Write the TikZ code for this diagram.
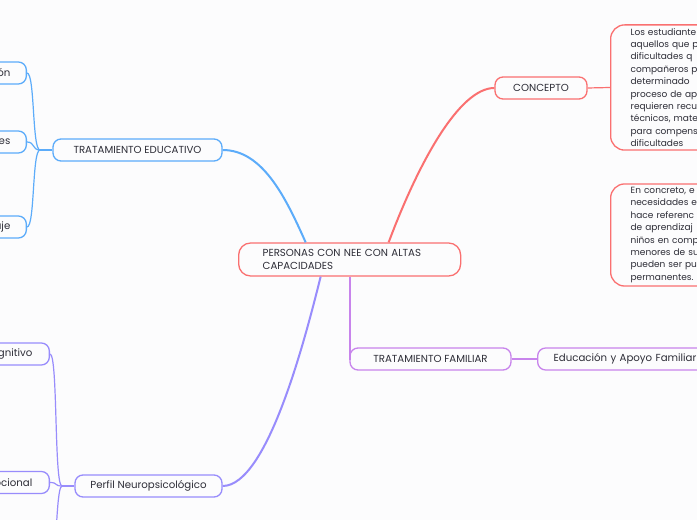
\documentclass[tikz,border=0pt]{standalone}
\usepackage{fontspec}
\setmainfont{Poppins}

\definecolor{ink}{RGB}{45,45,55}
\definecolor{paper}{RGB}{252,252,253}
\definecolor{redc}{RGB}{250,112,112}
\definecolor{bluec}{RGB}{92,172,250}
\definecolor{famc}{RGB}{200,132,236}
\definecolor{perfc}{RGB}{152,140,252}

\tikzstyle{topic}=[draw, rounded corners=8pt, line width=1.3pt, minimum height=22pt, inner xsep=0pt, text=ink, font=\fontsize{10.2}{12}\selectfont]
\tikzstyle{root}=[topic, anchor=west, rounded corners=12pt, minimum height=33pt, inner xsep=24pt, text width=174pt, align=left, font=\fontsize{10.2}{13}\selectfont]
\tikzstyle{note}=[topic, anchor=west, rounded corners=14pt, inner xsep=20pt, text width=200pt, align=left, font=\fontsize{9}{12.4}\selectfont]
\tikzstyle{leaf}=[topic, anchor=east, text width=100pt, align=right]
\tikzstyle{link}=[line width=1.2pt]
\tikzstyle{trunk}=[line width=2pt]

\begin{document}
\begin{tikzpicture}[x=1pt, y=1pt]
      \useasboundingbox[fill=paper] (0,0) rectangle (697,520);
      \clip (0,0) rectangle (697,520);

      \node[root, draw=redc] (ctr) at (238,260.5) {PERSONAS CON NEE CON ALTAS\\CAPACIDADES};

      % right side
      \node[topic, draw=redc, minimum width=92pt] (concepto) at (541,432) {CONCEPTO};
      \node[note, draw=redc] (def) at (610,432.5) {Los estudiante\\aquellos que p\\dificultades q\\compañeros p\\determinado\\proceso de ap\\requieren recu\\técnicos, mate\\para compens\\dificultades};
      \node[note, draw=redc] (detalle) at (610,285) {En concreto, e\\necesidades e\\hace referenc\\de aprendizaj\\niños en comp\\menores de su\\pueden ser pu\\permanentes.};
      \node[topic, draw=famc, minimum width=161pt] (familiar) at (430.5,161) {TRATAMIENTO FAMILIAR};
      \node[topic, draw=famc, anchor=west, minimum width=180pt, text width=150pt, inner xsep=16pt] (apoyo) at (537,161) {Educación y Apoyo Familiar};

      % left side
      \node[topic, draw=bluec, minimum width=169pt] (educativo) at (137.5,370) {TRATAMIENTO EDUCATIVO};
      \node[leaf, draw=bluec, inner xsep=16pt] (eduA) at (27,447) {ón};
      \node[leaf, draw=bluec, inner xsep=16pt] (eduB) at (27,378) {es};
      \node[leaf, draw=bluec, inner xsep=16pt] (eduC) at (27,293) {aje};
      \coordinate (eduFork) at (40,370);

      \node[topic, draw=perfc, minimum width=147pt] (perfil) at (148.5,34) {Perfil Neuropsicológico};
      \node[leaf, draw=perfc, inner xsep=17pt] (perfA) at (50,166) {gnitivo};
      \node[leaf, draw=perfc, inner xsep=17pt] (perfB) at (50,37.5) {ocional};
      \coordinate (perfFork) at (62,34);
      \coordinate (perfC) at (48,-110);

      % connectors
      \draw[trunk, redc] ([xshift=39pt]ctr.north) .. controls +(30,80) and +(-35,0) .. (concepto.west);
      \draw[link, redc] (concepto.east) -- (def.west);
      \draw[trunk, famc] (ctr.south) -- (ctr.south |- familiar.west) -- (familiar.west);
      \draw[link, famc] (familiar.east) -- (apoyo.west);
      \draw[trunk, bluec] (educativo.east) .. controls +(40,0) and +(-20,45) .. ([xshift=-44pt]ctr.north);
      \draw[trunk, perfc] (perfil.east) .. controls +(45,0) and +(-15,-60) .. ([xshift=-29pt]ctr.south);

      \draw[link, bluec] (educativo.west) -- (eduFork);
      \draw[link, bluec] (eduFork) .. controls +(-8,0) and +(8,0) .. (eduA.east);
      \draw[link, bluec] (eduFork) .. controls +(-8,0) and +(8,0) .. (eduB.east);
      \draw[link, bluec] (eduFork) .. controls +(-8,0) and +(8,0) .. (eduC.east);

      \draw[link, perfc] (perfil.west) -- (perfFork);
      \draw[link, perfc] (perfFork) .. controls +(-8,0) and +(8,0) .. (perfA.east);
      \draw[link, perfc] (perfFork) .. controls +(-8,0) and +(8,0) .. (perfB.east);
      \draw[link, perfc] (perfFork) .. controls +(-8,0) and +(8,0) .. (perfC);
    \end{tikzpicture}
\end{document}
